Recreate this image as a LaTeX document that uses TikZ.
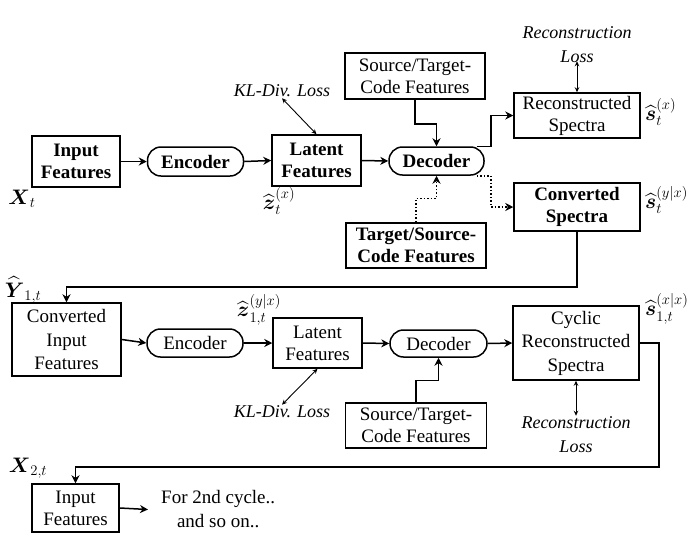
\RequirePackage{fix-cm}
\documentclass[tikz,border=0pt]{standalone}
\usepackage{amsmath}
\usepackage{fontspec}
\setmainfont{Liberation Serif}
\usetikzlibrary{arrows.meta,calc}
\begin{document}
\begin{tikzpicture}[x=1pt,y=-1pt,
  box/.style={draw,line width=1.5pt,align=center,inner sep=1pt,font=\fontsize{19}{22}\selectfont},
  bbox/.style={box,font=\fontsize{19}{22}\selectfont\bfseries},
  tbox/.style={box,font=\fontsize{19}{23.5}\selectfont},
  pill/.style={box,rounded corners=13.5pt},
  bpill/.style={bbox,rounded corners=13.5pt},
  arr/.style={line width=1.5pt,-{Stealth[length=8pt,width=8pt]}},
  darr/.style={arr,dotted},
  loss/.style={line width=0.9pt,{Stealth[length=5pt,width=4.5pt]}-{Stealth[length=5pt,width=4.5pt]}},
  losstxt/.style={align=center,inner sep=1pt,font=\fontsize{18}{24}\selectfont\itshape},
  lbl/.style={inner sep=0pt,font=\fontsize{21}{24}\selectfont}]
\useasboundingbox (0,0) rectangle (689,550);
% ---- top row
\node[bbox,minimum width=88pt,minimum height=51pt] (in1) at (76,161.5) {Input\\Features};
\node[bpill,minimum width=96pt,minimum height=29pt] (enc1) at (195.5,161.5) {Encoder};
\node[bbox,minimum width=89pt,minimum height=51pt] (lat1) at (316.5,160.5) {Latent\\Features};
\node[bpill,minimum width=95pt,minimum height=28pt] (dec1) at (436.5,161) {Decoder};
\node[box,minimum width=140pt,minimum height=46pt] (src1) at (415,76) {Source/Target-\\Code Features};
\node[box,minimum width=126pt,minimum height=45pt] (rec1) at (577,115.5) {Reconstructed\\Spectra};
\node[bbox,minimum width=126pt,minimum height=48pt] (conv1) at (577,207) {Converted\\Spectra};
\node[bbox,minimum width=140pt,minimum height=45pt] (tgt1) at (416,245.5) {Target/Source-\\Code Features};
\node[losstxt] (kl1) at (282,91) {KL-Div. Loss};
\node[losstxt] (rl1) at (577,45) {Reconstruction\\Loss};
\node[lbl] (xt) at (22,199) {$\boldsymbol{X}_t$};
\node[lbl] (zt) at (279,201) {$\widehat{\boldsymbol{z}}_t^{(x)}$};
\node[lbl,anchor=west] (st) at (645,112) {$\widehat{\boldsymbol{s}}_t^{(x)}$};
\node[lbl,anchor=west] (syt) at (645,200) {$\widehat{\boldsymbol{s}}_t^{(y|x)}$};
\draw[arr] (in1.east) -- (enc1.west);
\draw[arr] (enc1.east) -- (lat1.west);
\draw[arr] (lat1.east) -- (dec1.west);
\draw[arr] (src1.south) -- ++(0,24) -| (dec1.north);
\draw[darr] (tgt1.north) -- ++(0,-24) -| (dec1.south);
\draw[arr] ($(dec1.north east)+(-8,0)$) -- ++(14,0) |- (rec1.west);
\draw[darr] ($(dec1.south east)+(-8,0)$) -- ++(14,0) |- (conv1.west);
\draw[loss] (kl1.south) -- (lat1.north);
\draw[loss] ($(rl1.south)+(0,-3)$) -- (rec1.north);
% ---- bottom row
\node[tbox,minimum width=109pt,minimum height=73pt] (cin) at (66.5,339.5) {Converted\\Input\\Features};
\node[pill,minimum width=96pt,minimum height=28pt] (enc2) at (195,343) {Encoder};
\node[box,minimum width=89pt,minimum height=50pt] (lat2) at (317.5,343) {Latent\\Features};
\node[pill,minimum width=97pt,minimum height=27pt] (dec2) at (438.5,343.5) {Decoder};
\node[box,minimum width=141pt,minimum height=45pt] (src2) at (416,425.5) {Source/Target-\\Code Features};
\node[tbox,minimum width=126pt,minimum height=74pt] (cyc) at (576,343) {Cyclic\\Reconstructed\\Spectra};
\node[losstxt] (kl2) at (282,412) {KL-Div. Loss};
\node[losstxt] (rl2) at (576,435) {Reconstruction\\Loss};
\node[box,minimum width=87pt,minimum height=48pt] (in2) at (75.5,508) {Input\\Features};
\node[align=center,inner ysep=0pt,inner xsep=13pt,anchor=west,font=\fontsize{19}{24}\selectfont] (txt) at (148,509.5) {For 2nd cycle..\\and so on..};
\node[lbl] (y1) at (23,290) {$\widehat{\boldsymbol{Y}}_{1,t}$};
\node[lbl] (z1) at (259,310) {$\widehat{\boldsymbol{z}}_{1,t}^{(y|x)}$};
\node[lbl,anchor=west] (s1) at (645,309) {$\widehat{\boldsymbol{s}}_{1,t}^{(x|x)}$};
\node[lbl] (x2) at (28,468) {$\boldsymbol{X}_{2,t}$};
\draw[arr] (conv1.south) -- ++(0,55) -| (cin.north);
\draw[arr] (cin.east) -- (enc2.west);
\draw[arr] (enc2.east) -- (lat2.west);
\draw[arr] (lat2.east) -- (dec2.west);
\draw[arr] (dec2.east) -- (cyc.west);
\draw[arr] (src2.north) -- ++(0,-22) -| (dec2.south);
\draw[loss] (lat2.south) -- (kl2.north);
\draw[loss] (cyc.south) -- (rl2.north);
\draw[arr] (cyc.east) -| ++(19,124) -| (in2.north);
\draw[arr] (in2.east) -- (txt.west);
\end{tikzpicture}
\end{document}
